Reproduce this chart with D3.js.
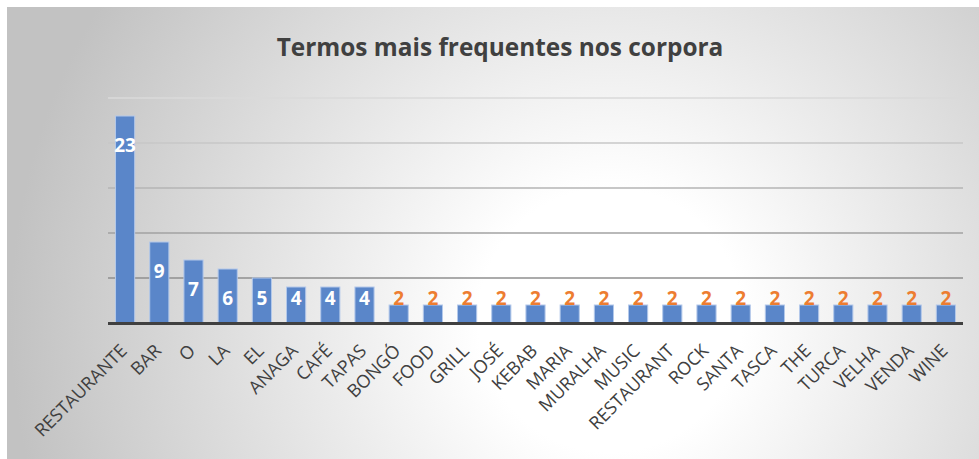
<!DOCTYPE html>
<html>
<head>
    <meta charset="utf-8">
    <title>Termos mais frequentes nos corpora</title>
    <style type="text/css">
        body { margin: 0; background: #fff; }
        .chart text { font-family: "Open Sans", "DejaVu Sans", sans-serif; }
        .grid line { stroke-width: 1.5px; }
    </style>
</head>
<body>
    <svg class="chart" width="979" height="459"></svg>
    <script type="text/javascript" src="https://cdn.jsdelivr.net/npm/d3@7"></script>
    <script type="text/javascript">
    var terms = ['RESTAURANTE', 'BAR', 'O', 'LA', 'EL', 'ANAGA', 'CAFÉ', 'TAPAS', 'BONGÓ', 'FOOD',
        'GRILL', 'JOSÉ', 'KEBAB', 'MARIA', 'MURALHA', 'MUSIC', 'RESTAURANT', 'ROCK', 'SANTA',
        'TASCA', 'THE', 'TURCA', 'VELHA', 'VENDA', 'WINE'];
    var counts = [23, 9, 7, 6, 5, 4, 4, 4, 2, 2, 2, 2, 2, 2, 2, 2, 2, 2, 2, 2, 2, 2, 2, 2, 2];
    var yTicks = [0, 5, 10, 15, 20, 25];
    var title = 'Termos mais frequentes nos corpora';

    var svg = d3.select('.chart');
    var W = 979, H = 459;
    var margin = {left: 108, right: 16, top: 98, bottom: 136};

    // background
    var defs = svg.append('defs');
    var grad = defs.append('radialGradient')
        .attr('id', 'bg')
        .attr('gradientUnits', 'userSpaceOnUse')
        .attr('cx', 610).attr('cy', 320).attr('r', 600);
    grad.append('stop').attr('offset', '0').attr('stop-color', '#ffffff');
    grad.append('stop').attr('offset', '0.22').attr('stop-color', '#ffffff');
    grad.append('stop').attr('offset', '1').attr('stop-color', '#c2c2c2');
    svg.append('rect')
        .attr('x', 7).attr('y', 7)
        .attr('width', W - 7).attr('height', H - 7)
        .attr('fill', 'url(#bg)');

    var x = d3.scaleBand()
        .domain(terms)
        .range([margin.left, W - margin.right])
        .paddingInner(0.44)
        .paddingOuter(0.22);
    var y = d3.scaleLinear()
        .domain([0, 25])
        .range([H - margin.bottom, margin.top]);

    var gridColor = d3.scaleLinear().domain([5, 25]).range(['#8f8f8f', '#dadada']);
    svg.append('g')
        .attr('class', 'grid')
        .selectAll('line')
        .data(yTicks.filter(function(d) { return d > 0; }))
        .enter()
        .append('line')
        .attr('x1', margin.left).attr('x2', W - margin.right)
        .attr('y1', function(d) { return y(d); })
        .attr('y2', function(d) { return y(d); })
        .attr('stroke', function(d) { return gridColor(d); });

    svg.append('g')
        .selectAll('rect')
        .data(counts)
        .enter()
        .append('rect')
        .attr('x', function(d, i) { return x(terms[i]); })
        .attr('y', function(d) { return y(d); })
        .attr('width', x.bandwidth())
        .attr('height', function(d) { return y(0) - y(d); })
        .attr('fill', '#5a86c9')
        .attr('stroke', '#b3c8ea')
        .attr('stroke-width', 1);

    // axis line
    svg.append('line')
        .attr('x1', margin.left).attr('x2', W - margin.right)
        .attr('y1', y(0) + 0.5).attr('y2', y(0) + 0.5)
        .attr('stroke', '#404040')
        .attr('stroke-width', 3);

    // data labels
    var labelFloor = y(2);
    svg.append('g')
        .selectAll('text')
        .data(counts)
        .enter()
        .append('text')
        .attr('x', function(d, i) { return x(terms[i]) + x.bandwidth() / 2; })
        .attr('y', function(d) { return Math.min(y(d) + 36, labelFloor); })
        .attr('text-anchor', 'middle')
        .attr('font-size', '19px')
        .attr('font-weight', 'bold')
        .attr('fill', function(d) { return Math.min(y(d) + 36, labelFloor) > y(d) + 2 ? '#ffffff' : '#ed7d31'; })
        .text(function(d) { return d; });

    // category labels
    svg.append('g')
        .selectAll('text')
        .data(terms)
        .enter()
        .append('text')
        .attr('transform', function(d) {
            return 'translate(' + (x(d) + x.bandwidth() / 2 + 3) + ',352) rotate(-45)';
        })
        .attr('text-anchor', 'end')
        .attr('font-size', '18px')
        .attr('fill', '#404040')
        .text(function(d) { return d; });

    svg.append('text')
        .attr('x', 500)
        .attr('y', 56)
        .attr('text-anchor', 'middle')
        .attr('font-size', '24.4px')
        .attr('font-weight', 'bold')
        .attr('fill', '#404040')
        .text(title);
    </script>
</body>
</html>
